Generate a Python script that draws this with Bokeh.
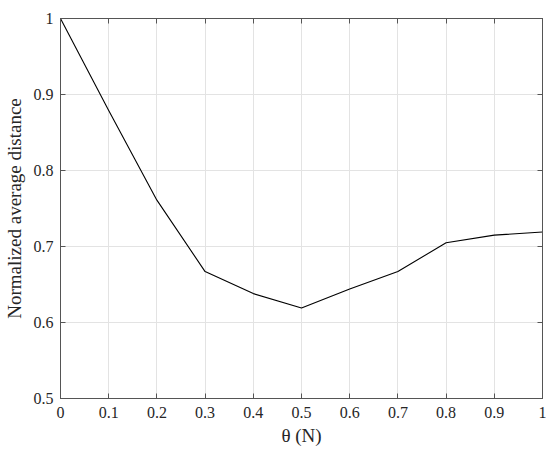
from bokeh.plotting import figure
from bokeh.models import LinearAxis, FixedTicker, Range1d
from bokeh.embed import file_html
from bokeh.resources import INLINE

theta = [0.0, 0.1, 0.2, 0.3, 0.4, 0.5, 0.6, 0.7, 0.8, 0.9, 1.0]
norm_dist = [1.0, 0.879, 0.761, 0.667, 0.638, 0.619, 0.644, 0.667, 0.705, 0.715, 0.719]
x_ticks = [0, 0.1, 0.2, 0.3, 0.4, 0.5, 0.6, 0.7, 0.8, 0.9, 1]
y_ticks = [0.5, 0.6, 0.7, 0.8, 0.9, 1]
y_label = "Normalized average distance"
x_label = "θ (N)"

FONT = "Liberation Serif"
AX = "#555555"
TXT = "#262626"

p = figure(width=546, height=450, output_backend="svg", toolbar_location=None,
           x_range=Range1d(0, 1), y_range=Range1d(0.5, 1),
           min_border_left=60, min_border_right=4, min_border_top=18, min_border_bottom=52)
p.background_fill_color = "white"
p.border_fill_color = "white"
p.outline_line_color = AX
p.outline_line_width = 1

p.xaxis.ticker = FixedTicker(ticks=x_ticks)
p.yaxis.ticker = FixedTicker(ticks=y_ticks)
for ax in (p.xaxis[0], p.yaxis[0]):
    ax.major_tick_in = 5
    ax.major_tick_out = 0
    ax.minor_tick_line_color = None
    ax.axis_line_color = AX
    ax.major_tick_line_color = AX
    ax.major_label_text_font = FONT
    ax.major_label_text_font_size = "16px"
    ax.major_label_text_color = TXT
    ax.axis_label_text_font = FONT
    ax.axis_label_text_font_size = "19px"
    ax.axis_label_text_font_style = "normal"
    ax.axis_label_text_color = TXT
p.xaxis[0].major_label_standoff = 8
p.yaxis[0].major_label_standoff = 7
p.yaxis[0].axis_label = y_label
p.yaxis[0].axis_label_standoff = 6
p.xaxis[0].axis_label = x_label
p.xaxis[0].axis_label_standoff = 4

# mirrored axes (box with ticks on all sides), labels not drawn
top = LinearAxis(ticker=FixedTicker(ticks=x_ticks), major_label_text_font_size="1px",
                 major_label_text_color=None, major_label_standoff=0,
                 major_tick_in=5, major_tick_out=0,
                 minor_tick_line_color=None, axis_line_color=AX, major_tick_line_color=AX)
right = LinearAxis(ticker=FixedTicker(ticks=y_ticks), major_label_text_font_size="1px",
                   major_label_text_color=None, major_label_standoff=0,
                   major_tick_in=5, major_tick_out=0,
                   minor_tick_line_color=None, axis_line_color=AX, major_tick_line_color=AX)
p.add_layout(top, "above")
p.add_layout(right, "right")

p.xgrid.ticker = FixedTicker(ticks=x_ticks)
p.ygrid.ticker = FixedTicker(ticks=y_ticks)
p.grid.grid_line_color = "#e3e3e3"
p.grid.grid_line_width = 1

p.line(theta, norm_dist, line_color="black", line_width=1.1)

open("out.html", "w").write(file_html(p, INLINE))
